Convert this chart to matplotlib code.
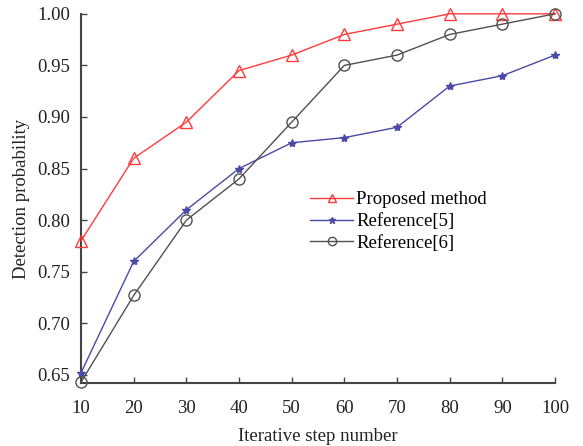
import matplotlib
matplotlib.use("Agg")
import matplotlib.pyplot as plt

steps = [10, 20, 30, 40, 50, 60, 70, 80, 90, 100]
proposed = [0.780, 0.860, 0.895, 0.945, 0.960, 0.980, 0.990, 1.000, 1.000, 1.000]
ref5 = [0.652, 0.760, 0.810, 0.850, 0.875, 0.880, 0.890, 0.930, 0.940, 0.960]
ref6 = [0.643, 0.727, 0.800, 0.840, 0.895, 0.950, 0.960, 0.980, 0.990, 1.000]
yticks = [0.65, 0.70, 0.75, 0.80, 0.85, 0.90, 0.95, 1.00]

plt.rcParams['font.family'] = ['Liberation Serif', 'DejaVu Serif']
fig = plt.figure(figsize=(5.83, 4.46), dpi=100)
ax = fig.add_axes([0.139, 0.141, 0.813, 0.828])

ax.plot(steps, proposed, color='#ff3b3b', lw=1.0, marker='^', ms=8, mfc='none',
        mec='#ff3b3b', mew=1.0, label='Proposed method', clip_on=False, zorder=3)
ax.plot(steps, ref5, color='#4a4aa8', lw=1.0, marker='*', ms=6, mfc='#4a4aa8',
        mec='#4a4aa8', label='Reference[5]', clip_on=False, zorder=3)
ax.plot(steps, ref6, color='#505050', lw=1.0, marker='o', ms=8, mfc='none',
        mec='#505050', mew=1.0, label='Reference[6]', clip_on=False, zorder=3)

ax.set_xlim(10, 100)
ax.set_ylim(0.642, 1.0)
ax.set_xticks(steps)
ax.set_yticks(yticks)
ax.set_yticklabels([f"{v:.2f}" for v in yticks])
for s in ['top', 'right']:
    ax.spines[s].set_visible(False)
for s in ['left', 'bottom']:
    ax.spines[s].set_color('#444444')
    ax.spines[s].set_linewidth(1.5)
ax.tick_params(direction='in', length=4, width=1.0, colors='#444444',
               labelcolor='#222222', labelsize=13.5)
ax.tick_params(axis='x', pad=12)
ax.tick_params(axis='y', pad=8)
ax.set_xlabel('Iterative step number', fontsize=13.5, color='#222222', labelpad=8)
ax.set_ylabel('Detection probability', fontsize=13.5, color='#222222', labelpad=5)

ax.legend(loc='upper left', bbox_to_anchor=(0.468, 0.54), frameon=False,
          fontsize=13.5, handlelength=2.3, handletextpad=0.15, labelspacing=0.25,
          markerscale=0.75, borderaxespad=0)

fig.savefig('out.png', dpi=100)
